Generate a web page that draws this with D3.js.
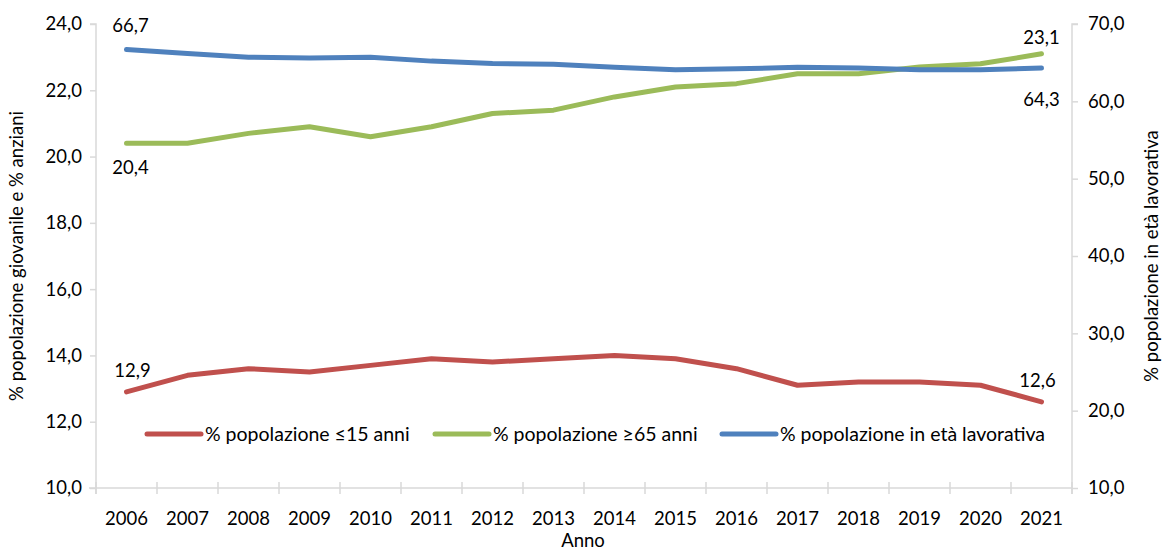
<!DOCTYPE html>
<html><head><meta charset="utf-8">
<script src="https://cdn.jsdelivr.net/npm/d3@7"></script>
<style>
body{margin:0;background:#fff;}
text{font-family:Lato, "Open Sans", sans-serif;fill:#000;}
</style></head>
<body><svg id="c" width="1162" height="553"></svg>
<script>
const years = ["2006","2007","2008","2009","2010","2011","2012","2013","2014","2015","2016","2017","2018","2019","2020","2021"];
const giovani = [12.9,13.4,13.6,13.5,13.7,13.9,13.8,13.9,14.0,13.9,13.6,13.1,13.2,13.2,13.1,12.6];
const anziani = [20.4,20.4,20.7,20.9,20.6,20.9,21.3,21.4,21.8,22.1,22.2,22.5,22.5,22.7,22.8,23.1];
const lavorativa = [66.7,66.2,65.7,65.6,65.7,65.2,64.9,64.8,64.4,64.1,64.2,64.4,64.3,64.1,64.1,64.3];
const leftTicks = [10,12,14,16,18,20,22,24];
const rightTicks = [10,20,30,40,50,60,70];
const seriesNames = ["% popolazione ≤15 anni","% popolazione ≥65 anni","% popolazione in età lavorativa"];
const colors = ["#C0504D","#9BBB59","#4F81BD"];

const svg = d3.select("#c");
const L = 96, R = 1072, T = 24, B = 488;
const FS = 18.5, LFS = 19.5;
const fmt = v => d3.format(".1f")(v).replace(".", ",");

const x = d3.scaleBand().domain(years).range([L, R]);
const yL = d3.scaleLinear().domain([10,24]).range([B, T]);
const yR = d3.scaleLinear().domain([10,70]).range([B, T]);
const grey = "#D9D9D9";

const gL = svg.append("g").attr("transform",`translate(${L},0)`)
  .call(d3.axisLeft(yL).tickValues(leftTicks).tickFormat(fmt).tickSize(6).tickPadding(8));
const gR = svg.append("g").attr("transform",`translate(${R},0)`)
  .call(d3.axisRight(yR).tickValues(rightTicks).tickFormat(fmt).tickSize(6).tickPadding(10));
[gL,gR].forEach(g=>{
  g.select(".domain").attr("stroke",grey).attr("stroke-width",1.5);
  g.selectAll(".tick line").attr("stroke",grey).attr("stroke-width",1.5);
  g.selectAll(".tick text").style("font-size",FS+"px").attr("fill","#000");
});
gL.select(".domain").attr("d",`M-6,${T}H0V${B+6}`);
gR.select(".domain").attr("d",`M6,${T}H0V${B+6}`);

const gX = svg.append("g").attr("transform",`translate(0,${B})`)
  .call(d3.axisBottom(x).tickSize(0).tickPadding(24));
gX.select(".domain").attr("stroke",grey).attr("stroke-width",1.5).attr("d",`M${L-7},0H${R}`);
gX.selectAll(".tick text").style("font-size",FS+"px").attr("fill","#000");
const bounds = years.map(y=>x(y)).concat([R]);
gX.selectAll(".xt").data(bounds).enter().append("line")
  .attr("x1",d=>d).attr("x2",d=>d).attr("y1",-6).attr("y2",6)
  .attr("stroke",grey).attr("stroke-width",1.5);

const cx = d => x(d) + x.bandwidth()/2;
const data = [
  {vals:giovani, y:yL},
  {vals:anziani, y:yL},
  {vals:lavorativa, y:yR}
];
data.forEach((s,i)=>{
  const line = d3.line().x((d,j)=>cx(years[j])).y(d=>s.y(d));
  svg.append("path").datum(s.vals).attr("d",line)
    .attr("fill","none").attr("stroke",colors[i]).attr("stroke-width",5)
    .attr("stroke-linecap","round").attr("stroke-linejoin","round");
});

const labels = [
  {s:2, j:0, dx:4, dy:-18},
  {s:1, j:0, dx:4, dy:31},
  {s:0, j:0, dx:6, dy:-15},
  {s:0, j:15, dx:-4, dy:-15},
  {s:1, j:15, dx:0, dy:-10},
  {s:2, j:15, dx:0, dy:38}
];
labels.forEach(l=>{
  const s = data[l.s];
  svg.append("text").attr("x",cx(years[l.j])+l.dx).attr("y",s.y(s.vals[l.j])+l.dy)
    .attr("text-anchor","middle").style("font-size",FS+"px").text(fmt(s.vals[l.j]));
});

const legX = [145, 433, 720];
seriesNames.forEach((n,i)=>{
  const g = svg.append("g").attr("transform",`translate(${legX[i]},434)`);
  g.append("line").attr("x1",2).attr("x2",56).attr("y1",0).attr("y2",0)
    .attr("stroke",colors[i]).attr("stroke-width",5).attr("stroke-linecap","round");
  g.append("text").attr("x",60).attr("y",6.5).style("font-size",LFS+"px").text(n);
});

svg.append("text").attr("transform",`translate(23,${(T+B)/2}) rotate(-90)`)
  .attr("text-anchor","middle").style("font-size",FS+"px").text("% popolazione giovanile e % anziani");
svg.append("text").attr("transform",`translate(1158,${(T+B)/2}) rotate(-90)`)
  .attr("text-anchor","middle").style("font-size",FS+"px").text("% popolazione in età lavorativa");
svg.append("text").attr("x",583).attr("y",547).attr("text-anchor","middle")
  .style("font-size",FS+"px").text("Anno");
</script></body></html>
